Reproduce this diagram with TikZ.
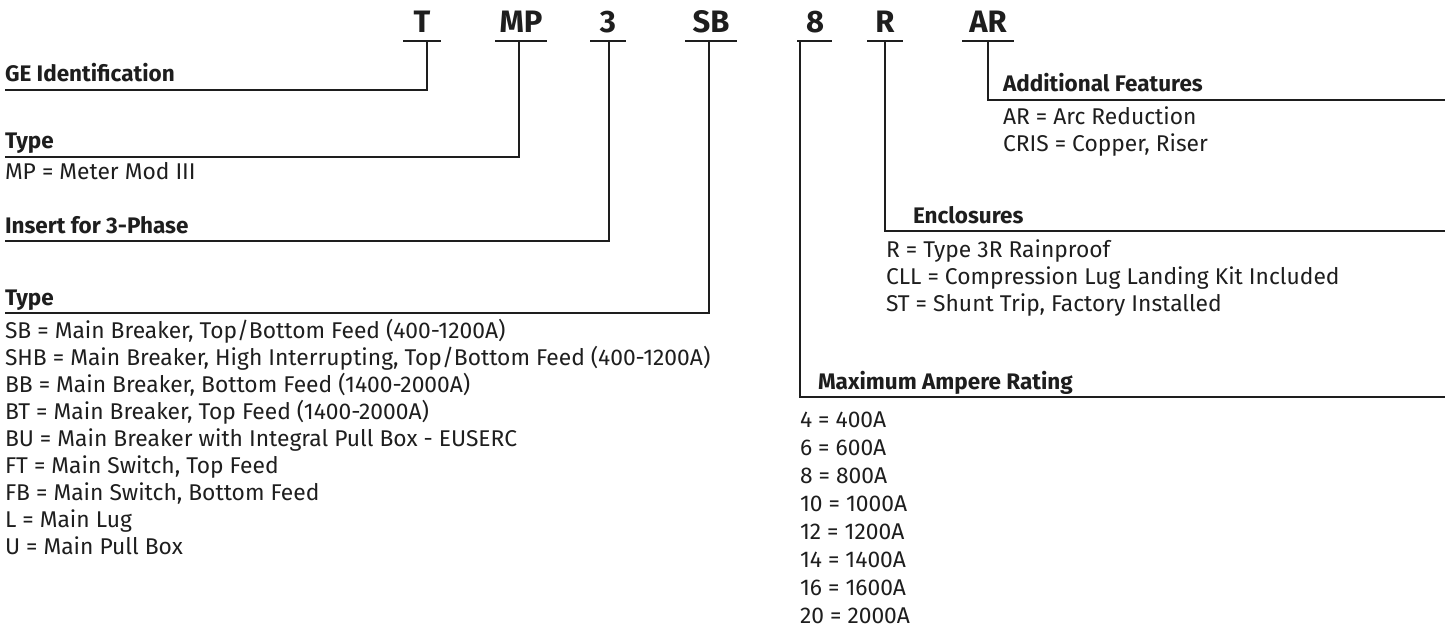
\documentclass[tikz,border=0pt]{standalone}
\usepackage{fontspec}
\setmainfont{Fira Sans}
\begin{document}
\begin{tikzpicture}[x=1bp,y=-1bp,
  every node/.style={inner sep=0pt,outer sep=0pt,text=ink},
  code/.style={anchor=base,font=\fontsize{31bp}{34bp}\selectfont\bfseries},
  head/.style={anchor=base west,font=\fontsize{22.5bp}{26bp}\selectfont\bfseries},
  item/.style={anchor=base west,font=\fontsize{22.8bp}{26bp}\selectfont},
  rule/.style={draw=ink,line width=1.3bp},
  conn/.style={draw=ink,line width=1.1bp}]
\definecolor{ink}{HTML}{1E1E1E}
\useasboundingbox (0,0) rectangle (1452,642);
% codes
\node[code] (T)  at (422,33) {T};
\node[code] (MP) at (521,33) {MP};
\node[code] (C3) at (608,33) {3};
\node[code] (SB) at (711,33) {SB};
\node[code] (C8) at (815,33) {8};
\node[code] (R)  at (885,33) {R};
\node[code] (AR) at (988,33) {AR};
% underlines
\path[rule] (403,41) -- (441,41);
\path[rule] (495,41) -- (547,41);
\path[rule] (590,41) -- (626,41);
\path[rule] (685,41) -- (737,41);
\path[rule] (797,41) -- (832,41);
\path[rule] (867,41) -- (903,41);
\path[rule] (962,41) -- (1014,41);
% connector start points
\coordinate (Tu)  at (427,41);
\coordinate (MPu) at (519,41);
\coordinate (C3u) at (609,41);
\coordinate (SBu) at (709,41);
\coordinate (C8u) at (800,41);
\coordinate (Ru)  at (885,41);
\coordinate (ARu) at (988,41);
% connector end points
\coordinate (geE)  at (5,90);
\coordinate (tyE)  at (5,157);
\coordinate (inE)  at (5,241);
\coordinate (ty2E) at (5,313);
\coordinate (afE)  at (1445,100);
\coordinate (enE)  at (1445,231);
\coordinate (maE)  at (1445,397);
\path[conn] (Tu) |- (geE);
\path[conn] (MPu) |- (tyE);
\path[conn] (C3u) |- (inE);
\path[conn] (SBu) |- (ty2E);
\path[conn] (C8u) |- (maE);
\path[conn] (Ru) |- (enE);
\path[conn] (ARu) |- (afE);
% left headings
\node[head] (ge)  at (5,82)  {GE Identification};
\node[head] (ty)  at (5,149) {Type};
\node[item] (mp1) at (5,180) {MP = Meter Mod III};
\node[head] (ins) at (5,233) {Insert for 3-Phase};
\node[head] (ty2) at (5,305) {Type};
\node[item] (l1) at (5,338) {SB = Main Breaker, Top/Bottom Feed (400-1200A)};
\node[item] (l2) at (5,365) {SHB = Main Breaker, High Interrupting, Top/Bottom Feed (400-1200A)};
\node[item] (l3) at (5,392) {BB = Main Breaker, Bottom Feed (1400-2000A)};
\node[item] (l4) at (5,419) {BT = Main Breaker, Top Feed (1400-2000A)};
\node[item] (l5) at (5,446) {BU = Main Breaker with Integral Pull Box - EUSERC};
\node[item] (l6) at (5,473) {FT = Main Switch, Top Feed};
\node[item] (l7) at (5,500) {FB = Main Switch, Bottom Feed};
\node[item] (l8) at (5,527) {L = Main Lug};
\node[item] (l9) at (5,554) {U = Main Pull Box};
% right: additional features
\node[head] (af) at (1003,92) {Additional Features};
\node[item] (af1) at (1003,125) {AR = Arc Reduction};
\node[item] (af2) at (1003,152) {CRIS = Copper, Riser};
% enclosures
\node[head] (en) at (913,223) {Enclosures};
\node[item] (en1) at (886,257) {R = Type 3R Rainproof};
\node[item] (en2) at (886,284) {CLL = Compression Lug Landing Kit Included};
\node[item] (en3) at (886,311) {ST = Shunt Trip, Factory Installed};
% max ampere
\node[head] (ma) at (818,389) {Maximum Ampere Rating};
\node[item] (m1) at (800,427) {4 = 400A};
\node[item] (m2) at (800,455) {6 = 600A};
\node[item] (m3) at (800,483) {8 = 800A};
\node[item] (m4) at (800,511) {10 = 1000A};
\node[item] (m5) at (800,539) {12 = 1200A};
\node[item] (m6) at (800,567) {14 = 1400A};
\node[item] (m7) at (800,595) {16 = 1600A};
\node[item] (m8) at (800,623) {20 = 2000A};
\end{tikzpicture}
\end{document}
